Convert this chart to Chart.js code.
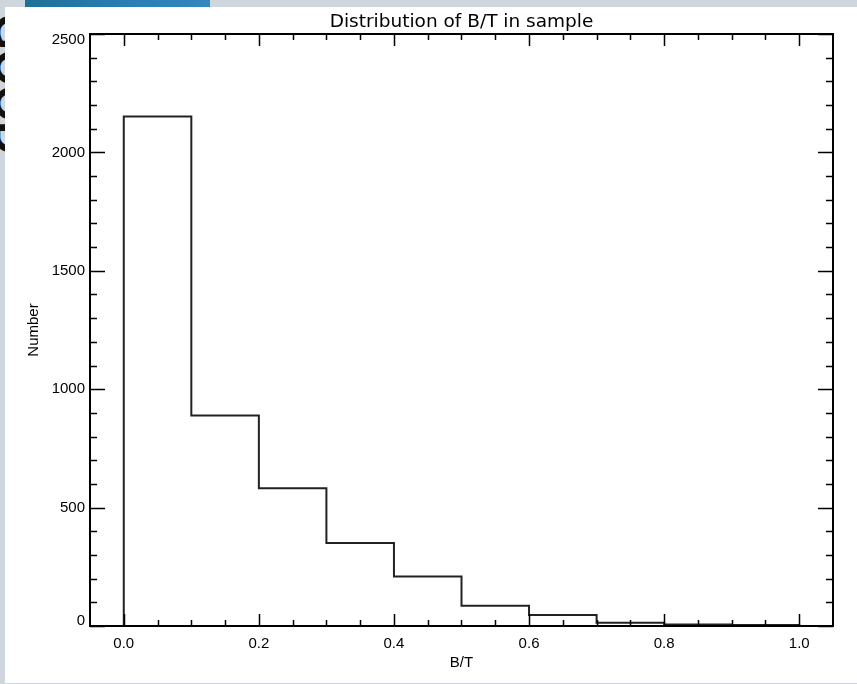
<!DOCTYPE html>
<html>
<head>
<meta charset="utf-8">
<script src="https://cdn.jsdelivr.net/npm/chart.js@4"></script>
<style>
  html, body { margin: 0; padding: 0; }
  body { width: 857px; height: 684px; background: #cfd6de; position: relative; overflow: hidden; }
  .strip { position: absolute; left: 25px; top: 0; width: 185px; height: 7px;
           background: linear-gradient(90deg, #1f7096, #2a7fb6 60%, #3487c0); }
  .panel { position: absolute; left: 5px; top: 7px; width: 852px; height: 676px; background: #fff; }
  .edge { position: absolute; left: -34px; top: 14px; width: 39px; height: 155px; overflow: hidden; }
  .edge span { display: block; transform: rotate(90deg); transform-origin: 0 0; position: absolute;
               left: 70px; top: 0; font: bold 46px "Liberation Sans", sans-serif; line-height: 51px;
               color: #111; white-space: nowrap; }
  #wrap { position: absolute; left: 0; top: 0; width: 857px; height: 684px; }
</style>
</head>
<body>
<div class="strip"></div>
<div class="panel"></div>
<div class="edge"><span>GOOD</span></div>
<div id="wrap"><canvas id="histChart"></canvas></div>
<script>
  // ===============================
  // Data
  // ===============================
  const binStarts = [0.0, 0.1, 0.2, 0.3, 0.4, 0.5, 0.6, 0.7, 0.8, 0.9];
  const binWidth = 0.1;
  const counts = [2152, 889, 582, 350, 209, 85, 46, 14, 6, 4];
  const xTicks = [0.0, 0.2, 0.4, 0.6, 0.8, 1.0];
  const yTicks = [0, 500, 1000, 1500, 2000, 2500];

  const titleText = "Distribution of B/T in sample";
  const xTitle = "B/T";
  const yTitle = "Number";

  // step outline, IDL psym=10 style
  const steps = [{ x: binStarts[0], y: 0 }];
  binStarts.forEach((b, i) => steps.push({ x: b, y: counts[i] }));
  const lastEdge = binStarts[binStarts.length - 1] + binWidth;
  steps.push({ x: lastEdge, y: counts[counts.length - 1] });
  steps.push({ x: lastEdge, y: 0 });

  const labelFont = '15px "Liberation Sans", Arial, sans-serif';

  // ===============================
  // IDL-style frame, ticks, labels
  // ===============================
  const idlAxes = {
    id: "idlAxes",
    afterDraw(chart) {
      const { ctx, chartArea: a } = chart;
      const xs = chart.scales.x;
      const ys = chart.scales.y;
      ctx.save();
      ctx.strokeStyle = "#000";
      ctx.fillStyle = "#000";

      // frame
      ctx.lineWidth = 2;
      ctx.strokeRect(a.left, a.top, a.right - a.left, a.bottom - a.top);

      // x ticks (top + bottom)
      ctx.lineWidth = 1.5;
      for (let v = 0; v <= 1.0001; v += 0.05) {
        const px = Math.round(xs.getPixelForValue(v)) + 0.5;
        const major = Math.abs(v * 5 - Math.round(v * 5)) < 1e-6;
        const len = major ? 12 : 6;
        ctx.beginPath();
        ctx.moveTo(px, a.bottom);
        ctx.lineTo(px, a.bottom - len);
        ctx.moveTo(px, a.top);
        ctx.lineTo(px, a.top + len);
        ctx.stroke();
      }
      // y ticks (left + right)
      for (let v = 0; v <= 2500; v += 100) {
        const py = Math.round(ys.getPixelForValue(v)) + 0.5;
        const len = v % 500 === 0 ? 15 : 7;
        ctx.beginPath();
        ctx.moveTo(a.left, py);
        ctx.lineTo(a.left + len, py);
        ctx.moveTo(a.right, py);
        ctx.lineTo(a.right - len, py);
        ctx.stroke();
      }

      // tick labels
      ctx.font = labelFont;
      ctx.textAlign = "center";
      ctx.textBaseline = "alphabetic";
      xTicks.forEach((t) => {
        ctx.fillText(t.toFixed(1), xs.getPixelForValue(t), a.bottom + 22);
      });
      ctx.textAlign = "right";
      ctx.textBaseline = "middle";
      yTicks.forEach((t) => {
        let py = ys.getPixelForValue(t);
        py = Math.min(Math.max(py, a.top + 6), a.bottom - 5);
        ctx.fillText(String(t), a.left - 5, py);
      });

      // axis titles
      ctx.textAlign = "center";
      ctx.textBaseline = "alphabetic";
      ctx.fillText(xTitle, (a.left + a.right) / 2, a.bottom + 41);
      ctx.save();
      ctx.translate(38, (a.top + a.bottom) / 2);
      ctx.rotate(-Math.PI / 2);
      ctx.fillText(yTitle, 0, 0);
      ctx.restore();

      // title
      ctx.font = '18.5px "DejaVu Sans", sans-serif';
      ctx.fillText(titleText, (a.left + a.right) / 2, a.top - 7);
      ctx.restore();
    },
  };

  new Chart(document.getElementById("histChart"), {
    type: "scatter",
    data: {
      datasets: [
        {
          data: steps,
          showLine: true,
          stepped: "before",
          borderColor: "#222",
          borderWidth: 2,
          pointRadius: 0,
          fill: false,
        },
      ],
    },
    options: {
      responsive: true,
      maintainAspectRatio: false,
      animation: false,
      layout: { padding: { left: 90, right: 24, top: 34, bottom: 58 } },
      scales: {
        x: {
          type: "linear",
          display: false,
          min: -0.05,
          max: 1.05,
        },
        y: {
          type: "linear",
          display: false,
          min: 0,
          max: 2500,
        },
      },
      plugins: {
        legend: { display: false },
        tooltip: { enabled: false },
      },
    },
    plugins: [idlAxes],
  });
</script>
</body>
</html>
